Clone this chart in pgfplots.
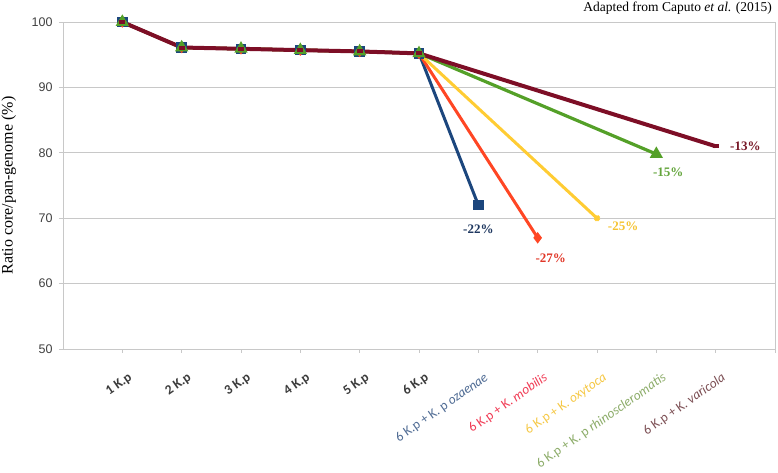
\documentclass[border=0pt]{standalone}
\usepackage{fontspec}
\setmainfont{Liberation Serif}
\newfontfamily\arial{Liberation Sans}
\newfontfamily\calibri{Carlito}
\usepackage{pgfplots}
\pgfplotsset{compat=1.18}
\definecolor{cblue}{RGB}{28,70,125}
\definecolor{cred}{RGB}{255,70,36}
\definecolor{cyellow}{RGB}{255,204,51}
\definecolor{cgreen}{RGB}{84,160,40}
\definecolor{cdred}{RGB}{125,14,38}
\definecolor{lblue}{RGB}{30,55,95}
\definecolor{lred}{RGB}{225,55,40}
\definecolor{lyellow}{RGB}{245,195,50}
\definecolor{lgreen}{RGB}{100,165,60}
\definecolor{ldred}{RGB}{120,25,40}
\definecolor{tblue}{RGB}{80,108,148}
\definecolor{tred}{RGB}{240,60,85}
\definecolor{tyellow}{RGB}{245,200,70}
\definecolor{tgreen}{RGB}{140,172,105}
\definecolor{tdred}{RGB}{125,80,85}
\definecolor{tgray}{RGB}{60,60,60}
\definecolor{gridgray}{RGB}{200,200,200}
\begin{document}
\begin{tikzpicture}[x=1pt,y=1pt]
\useasboundingbox (0,0) rectangle (778,473);
\begin{axis}[
  at={(63pt,124pt)}, anchor=south west,
  width=712pt, height=327pt, scale only axis,
  xmin=0, xmax=12, ymin=50, ymax=100,
  ytick={50,60,70,80,90,100},
  xtick={1,2,3,4,5,6,7,8,9,10,11},
  extra x ticks={12}, extra x tick labels={},
  xticklabels={
    {\color{tgray}\bfseries 1 K.p},
    {\color{tgray}\bfseries 2 K.p},
    {\color{tgray}\bfseries 3 K.p},
    {\color{tgray}\bfseries 4 K.p},
    {\color{tgray}\bfseries 5 K.p},
    {\color{tgray}\bfseries 6 K.p},
    {\color{tblue}6 K.p + K. p \textit{ozaenae}},
    {\color{tred}6 K.p + K. \textit{mobilis}},
    {\color{tyellow}6 K.p + K. \textit{oxytoca}},
    {\color{tgreen}6 K.p + K. p \textit{rhinoscleromatis}},
    {\color{tdred}6 K.p + K. \textit{varicola}}},
  xticklabel style={xshift=6pt, yshift=-14pt, rotate=35, anchor=north east, font=\calibri\fontsize{13.5}{13.5}\selectfont},
  yticklabel style={font=\arial\fontsize{12.5}{12.5}\selectfont, text=black!75, xshift=-3pt},
  /pgf/number format/assume math mode=true,
  ymajorgrids, grid style={gridgray, line width=0.9pt},
  axis line style={gridgray, line width=0.9pt},
  tick style={gridgray, line width=0.9pt},
  tick align=outside, major tick length=4pt,
  xtick pos=bottom, ytick pos=left,
  ylabel={Ratio core/pan-genome (\%)},
  ylabel style={at={(axis description cs:-0.076,0.5)}, anchor=center, font=\fontsize{16}{16}\selectfont},
  clip=false,
]
\addplot[cblue, line width=3pt, mark=square*, mark size=3.8pt] coordinates {(1,100) (2,96.1) (3,95.9) (4,95.7) (5,95.5) (6,95.2) (7,72.0)};
\addplot[cred, line width=3pt, mark=diamond*, mark size=3.3pt] coordinates {(1,100) (2,96.1) (3,95.9) (4,95.7) (5,95.5) (6,95.2) (8,67.0)};
\addplot[cyellow, line width=3pt, mark=x, mark size=3pt] coordinates {(1,100) (2,96.1) (3,95.9) (4,95.7) (5,95.5) (6,95.2) (9,70.0)};
\addplot[cgreen, line width=3.2pt, mark=triangle*, mark size=4.5pt] coordinates {(1,100) (2,96.1) (3,95.9) (4,95.7) (5,95.5) (6,95.2) (10,79.8)};
\addplot[cdred, line width=4pt, mark=-, mark size=3pt] coordinates {(1,100) (2,96.1) (3,95.9) (4,95.7) (5,95.5) (6,95.2) (11,81.0)};
\node[font=\bfseries\fontsize{13}{13}\selectfont, text=lblue] at (axis cs:7,68.35) {-22\%};
\node[font=\bfseries\fontsize{13}{13}\selectfont, text=lred] at (axis cs:8.22,63.9) {-27\%};
\node[font=\bfseries\fontsize{13}{13}\selectfont, text=lyellow] at (axis cs:9.44,68.8) {-25\%};
\node[font=\bfseries\fontsize{13}{13}\selectfont, text=lgreen] at (axis cs:10.2,77.1) {-15\%};
\node[font=\bfseries\fontsize{13}{13}\selectfont, text=ldred] at (axis cs:11.5,81.0) {-13\%};
\node[anchor=east, font=\fontsize{13.5}{13.5}\selectfont, inner sep=0pt] at (axis description cs:0.996,1.043) {Adapted from Caputo \textit{et al.} (2015)};
\end{axis}
\end{tikzpicture}
\end{document}
